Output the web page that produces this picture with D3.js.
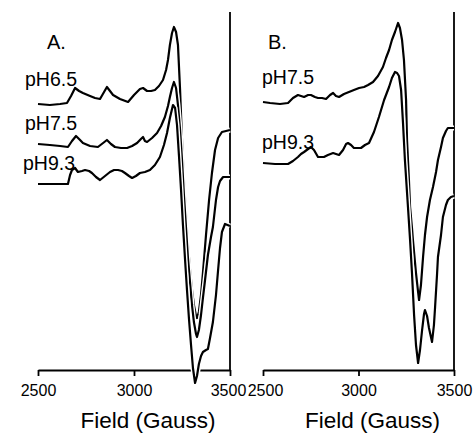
<!DOCTYPE html>
<html>
<head>
<meta charset="utf-8">
<script src="https://cdn.jsdelivr.net/npm/d3@7"></script>
<style>
  body { margin: 0; background: #fff; }
  svg text { font-family: "Liberation Sans", Arial, sans-serif; fill: #000; }
</style>
</head>
<body>
<div id="chart"></div>
<script>
// EPR spectra, field in Gauss, signal in arbitrary units (traces offset)
const fieldTicks = [2500, 3000, 3500]

// panel A
const a65Field = [2500,2562,2615,2651,2672,2693,2714,2734,2771,2797,2823,2844,2859,2875,2891,2927,2969,3000,3031,3047,3068,3089,3109,3130,3151,3167,3177,3187,3198,3208,3219,3229,3240,3250,3260,3271,3281,3292,3302,3312,3323,3328,3338,3349,3359,3375,3391,3406,3422,3438,3458,3479,3500]
const a65Signal = [266,265,266,267,274,282,279,277,274,272,271,278,283,279,275,271,268,275,281,282,279,279,280,284,290,300,310,325,337,343,338,325,280,230,190,155,125,100,80,65,54,52,58,75,97,135,170,197,220,232,238,239,240]

const a75Field = [2500,2562,2615,2656,2677,2698,2719,2734,2771,2812,2839,2859,2880,2901,2932,2964,2990,3016,3036,3047,3057,3068,3094,3120,3141,3161,3177,3187,3198,3208,3219,3229,3240,3250,3260,3271,3281,3292,3302,3312,3323,3328,3338,3349,3359,3370,3385,3401,3411,3427,3438,3448,3464,3484,3500]
const a75Signal = [226,225,224,223,229,234,230,227,224,223,227,230,226,223,222,222,224,227,231,233,229,228,232,237,244,253,264,273,282,288,282,265,240,210,175,142,112,87,65,48,36,33,40,55,72,90,115,133,143,170,183,189,193,193,193]

const a93Field = [2500,2562,2615,2656,2667,2677,2693,2708,2729,2745,2766,2781,2802,2823,2849,2875,2896,2917,2937,2953,2974,2990,3010,3031,3057,3083,3109,3135,3156,3172,3187,3203,3214,3224,3234,3245,3255,3266,3276,3286,3297,3307,3318,3328,3338,3349,3359,3375,3385,3396,3411,3427,3438,3448,3458,3474,3500]
const a93Signal = [186,186,186,186,195,200,202,198,199,200,199,197,193,190,194,198,200,200,199,197,194,192,194,197,198,200,205,213,225,237,252,265,262,245,215,180,145,110,80,52,25,2,-13,-6,6,14,18,20,21,32,48,75,100,122,138,146,144]

// panel B
const b75Field = [2500,2537,2589,2631,2657,2683,2699,2715,2736,2751,2772,2788,2809,2830,2851,2867,2882,2898,2924,2950,2976,3003,3029,3050,3076,3102,3128,3144,3160,3175,3191,3207,3217,3228,3238,3249,3254,3264,3270,3280,3285,3301,3312,3317,3327,3338,3348,3359,3374,3390,3406,3416,3432,3442,3458,3468,3484,3500]
const b75Signal = [268,267,266,267,272,275,274,273,275,275,273,272,272,271,275,277,274,273,276,278,280,282,283,285,288,294,303,312,320,330,338,347,342,330,310,270,230,190,163,142,130,97,78,70,85,113,135,153,170,183,198,210,223,232,239,242,242,242]

const b93Field = [2500,2563,2631,2657,2683,2699,2715,2736,2751,2767,2788,2804,2819,2840,2867,2882,2898,2919,2935,2945,2961,2976,2997,3013,3034,3055,3081,3107,3134,3160,3175,3191,3202,3212,3223,3233,3243,3259,3270,3280,3291,3301,3312,3322,3333,3343,3348,3359,3369,3385,3395,3401,3411,3416,3432,3442,3458,3468,3484,3500]
const b93Signal = [207,206,206,209,213,216,218,221,223,220,213,213,213,215,217,216,215,220,226,227,225,222,222,222,225,227,238,253,270,283,292,298,297,294,280,247,210,163,130,97,55,25,7,20,40,56,60,54,42,28,45,63,95,113,135,153,165,170,173,174]

const width = 476, height = 444
const axisY = 370, topY = 12

const panels = [
  { letter: "A.", x0: 38, x1: 230, letterX: 47,
    traces: [
      { name: "pH6.5", field: a65Field, signal: a65Signal, lx: 25, ly: 86 },
      { name: "pH7.5", field: a75Field, signal: a75Signal, lx: 25, ly: 130 },
      { name: "pH9.3", field: a93Field, signal: a93Signal, lx: 23, ly: 170 }
    ] },
  { letter: "B.", x0: 263, x1: 454, letterX: 268,
    traces: [
      { name: "pH7.5", field: b75Field, signal: b75Signal, lx: 262, ly: 84 },
      { name: "pH9.3", field: b93Field, signal: b93Signal, lx: 262, ly: 149 }
    ] }
]

const svg = d3.select("#chart").append("svg")
    .attr("width", width)
    .attr("height", height)

const yScale = d3.scaleLinear()
    .domain([0, 358])
    .range([axisY, topY])

panels.forEach((p, i) => {
  const xScale = d3.scaleLinear()
      .domain([2500, 3500])
      .range([p.x0, p.x1])

  const g = svg.append("g")

  // axis first so the curves (with white halo) sit over it
  const xAxis = d3.axisBottom(xScale)
      .tickValues(fieldTicks)
      .tickFormat(d3.format("d"))
      .tickSize(6)
      .tickSizeOuter(0)
      .tickPadding(9)

  const ax = g.append("g")
      .attr("class", "x-axis")
      .attr("transform", `translate(0,${axisY})`)
      .call(xAxis)
  ax.select(".domain").attr("stroke", "#000").attr("stroke-width", 1.8)
  ax.selectAll(".tick line").attr("stroke", "#000").attr("stroke-width", 1.8)
  ax.selectAll(".tick text")
      .attr("font-size", 16)
      .attr("font-family", "Liberation Sans, Arial, sans-serif")
      .attr("fill", "#000")
      // the two panels' end labels touch, nudge them apart a little
      .attr("dx", d => (i == 0 && d == 3500) ? -2 : (i == 1 && d == 2500) ? 2 : 0)

  // right frame line
  g.append("line")
      .attr("x1", xScale(3500)).attr("x2", xScale(3500))
      .attr("y1", topY).attr("y2", axisY)
      .attr("stroke", "#000")
      .attr("stroke-width", 1.8)

  const line = d3.line()
      .x(d => xScale(d[0]))
      .y(d => yScale(d[1]))

  p.traces.forEach(t => {
    const pts = d3.zip(t.field, t.signal)
    g.append("path")
        .datum(pts)
        .attr("d", line)
        .attr("fill", "none")
        .attr("stroke", "#fff")
        .attr("stroke-width", 5)
        .attr("stroke-linejoin", "round")
    g.append("path")
        .datum(pts)
        .attr("d", line)
        .attr("fill", "none")
        .attr("stroke", "#000")
        .attr("stroke-width", 2.2)
        .attr("stroke-linejoin", "round")
    g.append("text")
        .attr("x", t.lx)
        .attr("y", t.ly)
        .attr("font-size", 19.5)
        .text(t.name)
  })

  g.append("text")
      .attr("x", p.letterX)
      .attr("y", 49)
      .attr("font-size", 20)
      .text(p.letter)

  g.append("text")
      .attr("x", (p.x0 + p.x1) / 2 + 14)
      .attr("y", 428)
      .attr("text-anchor", "middle")
      .attr("font-size", 22.5)
      .text("Field (Gauss)")
})
</script>
</body>
</html>
